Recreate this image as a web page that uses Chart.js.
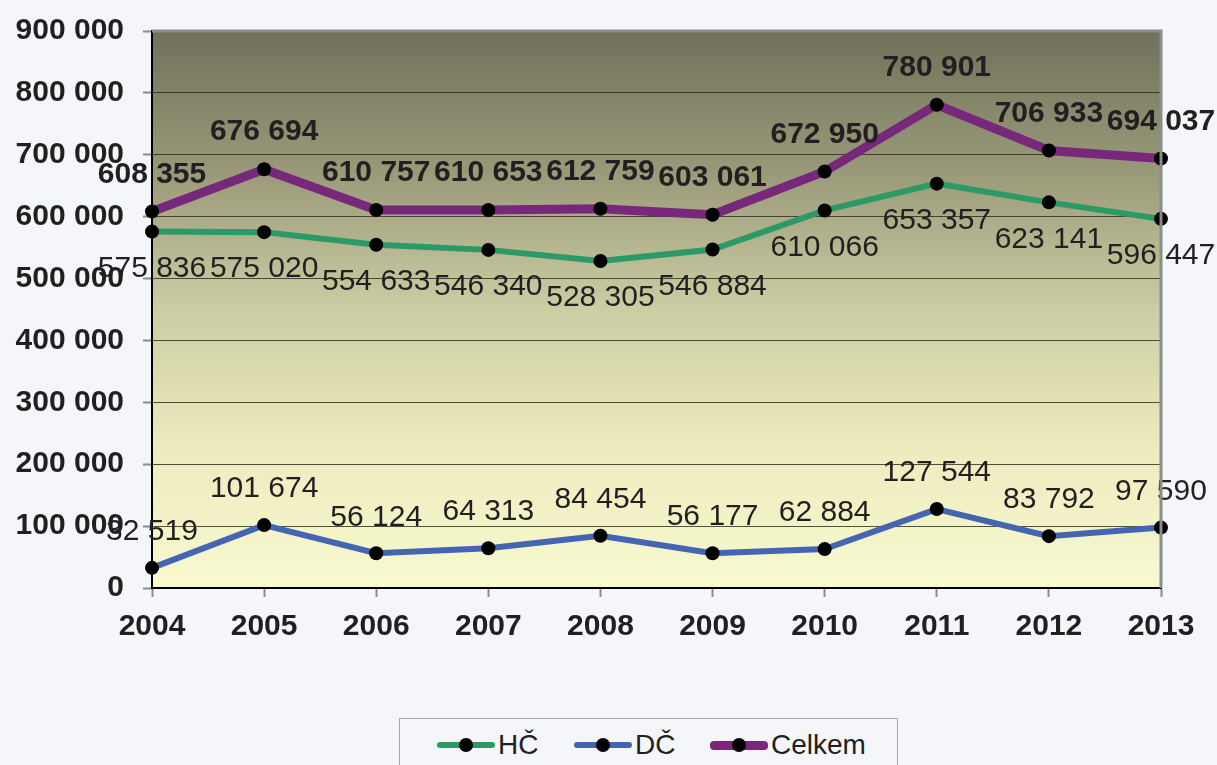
<!DOCTYPE html>
<html>
<head>
<meta charset="utf-8">
<script src="https://cdn.jsdelivr.net/npm/chart.js@4/dist/chart.umd.min.js"></script>
<style>
  html, body { margin: 0; padding: 0; background: #f5f6fa; }
  #wrap { position: relative; width: 1217px; height: 765px; overflow: hidden; }
  #graf { position: absolute; left: 0; top: 0; }
  #legenda {
    position: absolute; left: 399px; top: 718px; width: 497px; height: 70px;
    border: 1px solid #a8a8a8; background: #f5f6fa;
    font-family: 'Liberation Sans', Arial, sans-serif; font-size: 28px; color: #231f20;
  }
  .pol { position: absolute; top: 8px; display: flex; align-items: center; height: 36px; }
  .car { position: relative; width: 58px; margin-right: 3px; }
  .car .ln { position: absolute; left: 0; right: 0; border-radius: 4px; }
  .car .bod { position: absolute; left: 22px; top: -7px; width: 14px; height: 14px; border-radius: 50%; background: #000; }
</style>
</head>
<body>
<div id="wrap">
  <canvas id="graf" width="1217" height="765"></canvas>
  <div id="legenda"></div>
</div>
<script>
const roky = ['2004','2005','2006','2007','2008','2009','2010','2011','2012','2013'];
const hc = [575836, 575020, 554633, 546340, 528305, 546884, 610066, 653357, 623141, 596447];
const dc = [32519, 101674, 56124, 64313, 84454, 56177, 62884, 127544, 83792, 97590];
const celkem = [608355, 676694, 610757, 610653, 612759, 603061, 672950, 780901, 706933, 694037];

const FONT = "'Liberation Sans', Arial, sans-serif";
const TEXT = '#231f20';

function cislo(v) {
    return String(v).replace(/\B(?=(\d{3})+(?!\d))/g, ' ');
}

// pozadi plochy grafu + horni a prava sedy okraj
const pozadi = {
    id: 'pozadi',
    beforeDraw(chart) {
        const { ctx, chartArea: a } = chart;
        const g = ctx.createLinearGradient(0, a.top, 0, a.bottom);
        g.addColorStop(0, '#71715b');
        g.addColorStop(0.25, '#999979');
        g.addColorStop(0.5, '#cdcda4');
        g.addColorStop(0.75, '#ececbf');
        g.addColorStop(1, '#f9f9d0');
        ctx.save();
        ctx.fillStyle = g;
        ctx.fillRect(a.left, a.top, a.right - a.left, a.bottom - a.top);
        ctx.restore();
    },
    afterDraw(chart) {
        const { ctx, chartArea: a } = chart;
        ctx.save();
        ctx.strokeStyle = '#8c8c8c';
        ctx.lineWidth = 3;
        ctx.beginPath();
        ctx.moveTo(a.left, a.top);
        ctx.lineTo(a.right, a.top);
        ctx.lineTo(a.right, a.bottom);
        ctx.stroke();
        ctx.restore();
    }
};

// popisky hodnot
const popisky = {
    id: 'popisky',
    afterDatasetsDraw(chart) {
        const ctx = chart.ctx;
        ctx.save();
        ctx.textAlign = 'center';
        ctx.textBaseline = 'middle';
        ctx.fillStyle = TEXT;
        chart.data.datasets.forEach((ds, i) => {
            const meta = chart.getDatasetMeta(i);
            ctx.font = (ds.tucne ? 'bold ' : '') + '30px ' + FONT;
            meta.data.forEach((pt, j) => {
                ctx.fillText(cislo(ds.data[j]), pt.x, pt.y + ds.posun);
            });
        });
        ctx.restore();
    }
};

const datasets = [
    { label: 'HČ', data: hc, borderColor: '#2b9a67', borderWidth: 6, posun: 37, tucne: false },
    { label: 'DČ', data: dc, borderColor: '#4565b3', borderWidth: 6, posun: -36, tucne: false },
    { label: 'Celkem', data: celkem, borderColor: '#77287a', borderWidth: 9, posun: -37, tucne: true }
].map(d => Object.assign(d, {
    pointBackgroundColor: '#000',
    pointBorderWidth: 0,
    pointRadius: 7,
    tension: 0,
    clip: false,
    fill: false
}));

new Chart(document.getElementById('graf'), {
    type: 'line',
    data: { labels: roky, datasets: datasets },
    options: {
        responsive: false,
        animation: false,
        events: [],
        layout: { padding: { left: 0, right: 56, top: 31, bottom: 0 } },
        plugins: { legend: { display: false }, tooltip: { enabled: false } },
        scales: {
            x: {
                offset: false,
                grid: {
                    display: true, drawOnChartArea: false, drawTicks: true,
                    tickLength: 9, tickColor: '#8c8c8c', tickWidth: 2, offset: false
                },
                border: { color: '#000', width: 2 },
                ticks: { color: TEXT, font: { family: FONT, size: 30, weight: 'bold' }, padding: 12, maxRotation: 0 },
                afterFit(s) { s.height = 177; s.paddingLeft = 0; s.paddingRight = 0; }
            },
            y: {
                min: 0, max: 900000,
                grid: {
                    color: 'rgba(40,40,30,0.8)', lineWidth: 1, borderDash: [1, 2],
                    tickLength: 9, tickColor: '#8c8c8c', tickWidth: 2, tickBorderDash: [20, 0]
                },
                border: { color: '#000', width: 2 },
                ticks: {
                    stepSize: 100000, color: TEXT, padding: 19,
                    font: { family: FONT, size: 30, weight: 'bold' },
                    callback: v => cislo(v)
                },
                afterFit(s) { s.width = 152; s.paddingTop = 0; s.paddingBottom = 0; }
            }
        }
    },
    plugins: [pozadi, popisky]
});

// legenda
const polohy = [37, 174, 310];
const leg = document.getElementById('legenda');
datasets.forEach((d, i) => {
    const el = document.createElement('div');
    el.className = 'pol';
    el.style.left = polohy[i] + 'px';
    const tl = d.borderWidth;
    el.innerHTML = '<span class="car"><span class="ln" style="background:' + d.borderColor +
        ';height:' + tl + 'px;top:' + (-tl / 2) + 'px"></span><span class="bod"></span></span><span>' +
        d.label + '</span>';
    leg.appendChild(el);
});
</script>
</body>
</html>
